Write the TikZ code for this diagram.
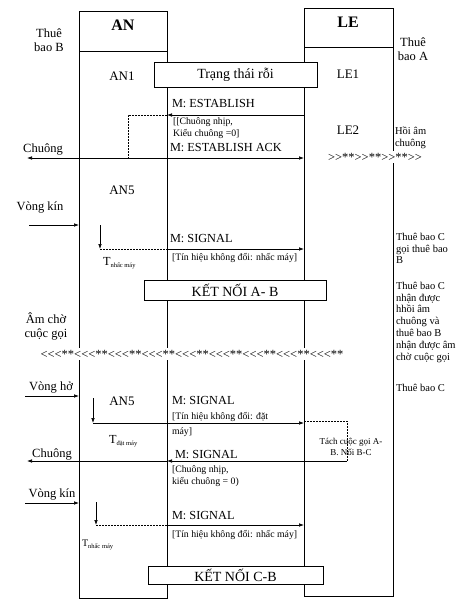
\documentclass[tikz,border=0pt]{standalone}
\usepackage{fontspec}
\setmainfont{Liberation Serif}
\usetikzlibrary{arrows.meta}
\newcommand{\tsub}[1]{\raisebox{-2pt}{\fontsize{6.5}{7}\selectfont #1}}
\newcommand{\rgrp}{>{}>{}*{}*{}}
\newcommand{\lgrp}{<{}<{}<{}*{}*{}}
\begin{document}
\begin{tikzpicture}[x=1pt,y=-1pt, line width=0.7pt,
  >={Latex[length=5pt,width=3.6pt]},
  every node/.style={inner sep=0pt, outer sep=0pt},
  lbl/.style={font=\fontsize{12.3}{14}\selectfont},
  sm/.style={font=\fontsize{9.8}{12}\selectfont, align=left},
  side/.style={font=\fontsize{10.5}{11.8}\selectfont, align=left},
  lft/.style={font=\fontsize{12.5}{14}\selectfont, align=center},
  hdr/.style={font=\fontsize{16}{18}\bfseries\selectfont},
  stbox/.style={draw, fill=white, font=\fontsize{14}{16}\selectfont},
  stars/.style={fill=white, inner sep=1.5pt, font=\fontsize{12.5}{14}\selectfont},
  fdash/.style={dash pattern=on 2pt off 1pt},
  ]
\useasboundingbox (0,0) rectangle (467,611);

% columns
\node[draw, anchor=north west, minimum width=88pt, minimum height=587pt] (an) at (79,11) {};
\node[draw, anchor=north west, minimum width=89pt, minimum height=588pt] (le) at (304,8) {};
\coordinate (anh) at (79,51);
\coordinate (leh) at (304,47);
\draw (anh) -- (an.east |- anh);
\draw (leh) -- (le.east |- leh);
\node[hdr] (antitle) at (123,25) {AN};
\node[hdr] (letitle) at (348,22) {LE};

% side labels
\node[lft] (tbB) at (49,40) {Thuê\\bao B};
\node[lft] (tbA) at (413,49) {Thuê\\bao A};

% states
\node[lbl, font=\fontsize{13}{15}\selectfont] (an1) at (122,76) {AN1};
\node[lbl, font=\fontsize{13}{15}\selectfont] (le1) at (348,74) {LE1};
\node[lbl, font=\fontsize{13}{15}\selectfont] (le2) at (348,130) {LE2};
\node[lbl, font=\fontsize{13}{15}\selectfont] (an5a) at (122,190) {AN5};
\node[lbl, font=\fontsize{13}{15}\selectfont] (an5b) at (122,401) {AN5};

% Trang thai roi
\node[stbox, minimum width=163pt, minimum height=25pt] (idle) at (235.5,74.5) {Trạng thái rỗi};

% M: ESTABLISH
\node[lbl, anchor=west] (mest) at (172,104) {M: ESTABLISH};
\coordinate (e1) at (128,115);
\draw[->] (le.west |- e1) -- (an.east |- e1);
\draw[fdash] (an.east |- e1) -- (e1) -- (128,158);
\node[sm, anchor=north west] (ring1) at (173,118) {[[Chuông nhịp,\\Kiểu chuông =0]};
\node[side, anchor=west] (hoiam) at (395,138) {Hồi âm\\chuông};

% M: ESTABLISH ACK + Chuong
\node[lbl, anchor=west] (mack) at (170,148) {M: ESTABLISH ACK};
\coordinate (chu1) at (27,158);
\draw[->] (an.east |- chu1) -- (le.west |- chu1);
\draw[->] (an.east |- chu1) -- (chu1);
\node[lft] (chuong1) at (43,149) {Chuông};
\node[stars] (st1) at (375,157) {\rgrp\rgrp\rgrp>{}>};

% Vong kin 1
\node[lft] (vk1) at (40,207) {Vòng kín};
\coordinate (vk1s) at (29,225);
\draw[->] (vk1s) -- (an.west |- vk1s);
\coordinate (t1a) at (100,225);
\coordinate (t1b) at (100,249);
\draw[->] (t1a) -- (t1b);
\draw[fdash] (t1b) -- (an.east |- t1b);
\draw[->] (an.east |- t1b) -- (le.west |- t1b);
\node[lbl, anchor=west] (sig1) at (170,239) {M: SIGNAL};
\node[sm, anchor=west] (sig1t) at (172,258) {[Tín hiệu không đổi: nhấc máy]};
\node[lbl, anchor=west] (T1) at (103,263) {T\tsub{nhấc máy}};

% right notes
\node[side, anchor=north west] (n1) at (396,233) {Thuê bao C\\gọi thuê bao\\B};
\node[side, anchor=north west] (n2) at (396,282) {Thuê bao C\\nhận được\\hhồi âm\\chuông và\\thuê bao B\\nhận được âm\\chờ cuộc gọi};
\node[side, anchor=west] (n3) at (396,388) {Thuê bao C};

% KET NOI A-B
\node[stbox, minimum width=182pt, minimum height=20pt] (kab) at (235,290) {KẾT NỐI A- B};

% Am cho cuoc goi
\node[lft] (amcho) at (46,326) {Âm chờ\\cuộc gọi};
\node[stars] (st2) at (192,354) {\lgrp\lgrp\lgrp\lgrp\lgrp\lgrp\lgrp\lgrp\lgrp};

% Vong ho
\node[lft] (vh) at (51,387) {Vòng hở};
\coordinate (vhs) at (25,396);
\draw[->] (vhs) -- (an.west |- vhs);
\coordinate (t2a) at (93,398);
\coordinate (t2b) at (93,423);
\draw[->] (t2a) -- (t2b);
\draw (t2b) -- (an.east |- t2b);
\draw[->] (an.east |- t2b) -- (le.west |- t2b);
\node[lbl, anchor=west] (sig2) at (172,401) {M: SIGNAL};
\node[sm, anchor=west] (sig2t) at (172,417) {[Tín hiệu không đổi: đặt};
\node[sm, anchor=west] (sig2u) at (172,432) {máy]};
\node[lbl, anchor=west] (T2) at (109,441) {T\tsub{đặt máy}};

% Tach cuoc goi
\coordinate (tc1) at (347,421);
\coordinate (tc2) at (347,461);
\draw[fdash] (le.west |- tc1) -- (tc1) -- (tc2);
\node[sm, align=center, font=\fontsize{9}{11.5}\selectfont] (tach) at (351,447) {Tách cuộc gọi A-\\B. Nối B-C};
\draw[->] (tc2) -- (an.east |- tc2);
\coordinate (chu2) at (27,461);
\draw[->] (an.east |- chu2) -- (chu2);
\node[lft] (chuong2) at (52,454) {Chuông};
\node[lbl, anchor=west] (sig3) at (175,455) {M: SIGNAL};
\node[sm, anchor=north west] (ring2) at (172,466) {[Chuông nhịp,\\kiểu chuông = 0)};

% Vong kin 2
\node[lft] (vk2) at (52,494) {Vòng kín};
\coordinate (vk2s) at (25,503);
\draw[->] (vk2s) -- (an.west |- vk2s);
\coordinate (t3a) at (96,502);
\coordinate (t3b) at (96,525);
\draw[->] (t3a) -- (t3b);
\draw[fdash] (t3b) -- (an.east |- t3b);
\draw[->] (an.east |- t3b) -- (le.west |- t3b);
\node[lbl, anchor=west] (sig4) at (172,516) {M: SIGNAL};
\node[sm, anchor=west] (sig4t) at (172,535) {[Tín hiệu không đổi: nhấc máy]};
\node[lbl, anchor=west, font=\fontsize{10}{12}\selectfont] (T3) at (82,545) {T\tsub{nhấc máy}};

% KET NOI C-B
\node[stbox, minimum width=175pt, minimum height=18pt] (kcb) at (235.5,575.5) {KẾT NỐI C-B};
\end{tikzpicture}
\end{document}
